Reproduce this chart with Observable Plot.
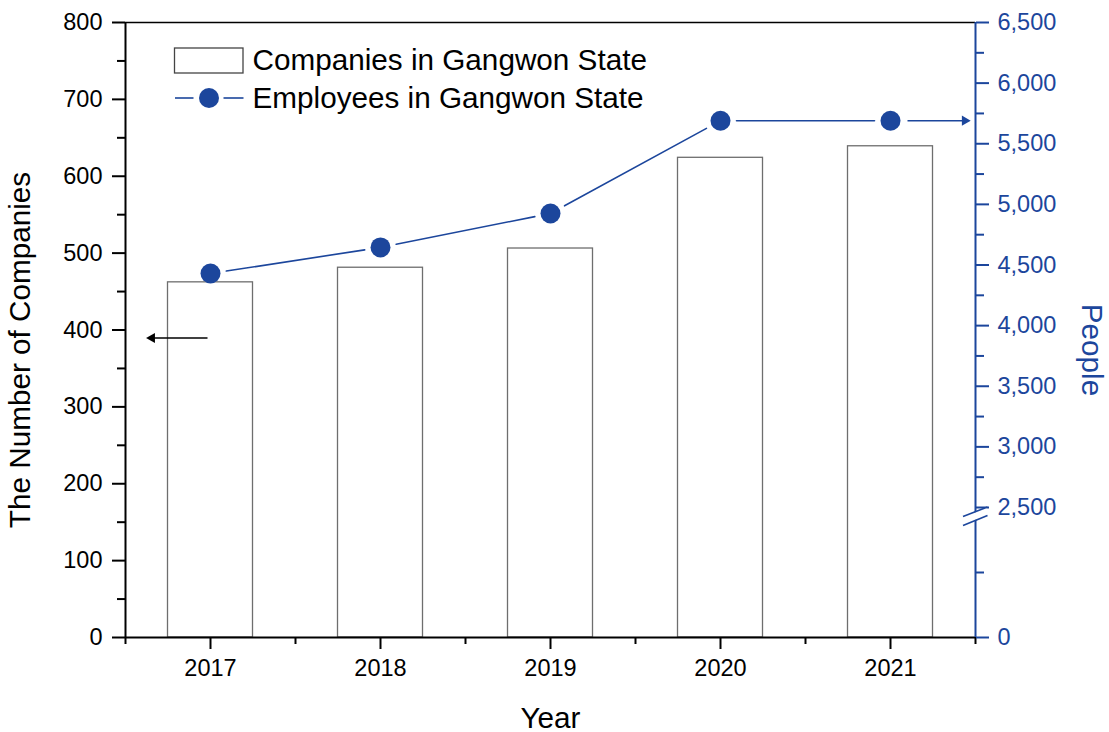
<!DOCTYPE html>
<html><head><meta charset="utf-8">
<script src="https://cdn.jsdelivr.net/npm/d3@7"></script>
<script src="https://cdn.jsdelivr.net/npm/@observablehq/plot@0.6"></script>
<style>body{margin:0;background:#fff;}</style>
</head><body><div id="chart"></div>
<script>
// ---- data ----
const years = [2017, 2018, 2019, 2020, 2021];
const companies = [462, 481, 506, 624, 639];
const employees = [4430, 4645, 4925, 5690, 5690];
const leftTicks = [0, 100, 200, 300, 400, 500, 600, 700, 800];
const leftMinor = [50, 150, 250, 350, 450, 550, 650, 750];
const rightTicks = [0, 2500, 3000, 3500, 4000, 4500, 5000, 5500, 6000, 6500];
const rightMinor = [1250, 2750, 3250, 3750, 4250, 4750, 5250, 5750, 6250];
const xMinor = [2016.5, 2017.5, 2018.5, 2019.5, 2020.5, 2021.5];
const seriesNames = ["Companies in Gangwon State", "Employees in Gangwon State"];

// ---- styling / geometry ----
const BLUE = "#1c469c";
const W = 1109, H = 732, ML = 125, MR = 134, MT = 22, MB = 95;
const X0 = 2016.5, X1 = 2021.5, Y1 = 800;
const invX = px => X0 + (px - ML) * (X1 - X0) / (W - ML - MR);
const invY = py => (H - MB - py) * Y1 / (H - MB - MT);

// broken right axis: 0..2500 compressed, 2500..6500 linear
const breakPeople = 2500, topPeople = 6500, breakLeft = invY(507), topLeft = 800;
const toLeft = v => v <= breakPeople ? v / breakPeople * breakLeft
  : breakLeft + (v - breakPeople) * (topLeft - breakLeft) / (topPeople - breakPeople);
const fromLeft = u => u <= breakLeft ? u / breakLeft * breakPeople
  : breakPeople + (u - breakLeft) * (topPeople - breakPeople) / (topLeft - breakLeft);

const table = years.map((year, i) => ({year, companies: companies[i], employees: employees[i], emp: toLeft(employees[i])}));
const segs = table.slice(1).map((d, i) => ({x1: table[i].year, y1: table[i].emp, x2: d.year, y2: d.emp}));

const last = table[table.length - 1];
const font = "'Liberation Sans', Arial, sans-serif";
const TITLE = 29.7;

const chart = Plot.plot({
  width: W, height: H, marginLeft: ML, marginRight: MR, marginTop: MT, marginBottom: MB,
  style: {fontFamily: font, fontSize: "23.5px", color: "#000", background: "#fff", overflow: "visible"},
  x: {type: "linear", domain: [X0, X1]},
  y: {domain: [0, Y1]},
  marks: [
    // bars
    Plot.rect(table, {x1: d => d.year - 0.25, x2: d => d.year + 0.25, y1: 0, y2: "companies",
      fill: "white", stroke: "#6e6e6e", strokeWidth: 1.3}),
    // employees line with gaps at dots
    Plot.arrow(segs, {x1: "x1", y1: "y1", x2: "x2", y2: "y2", stroke: BLUE, strokeWidth: 1.6,
      headLength: 0, insetStart: 16, insetEnd: 16}),
    Plot.dot(table, {x: "year", y: "emp", r: 10, fill: BLUE}),

    // frame
    Plot.ruleY([Y1], {stroke: "#000", strokeWidth: 1.6}),
    Plot.ruleY([0], {stroke: "#000", strokeWidth: 2}),
    Plot.ruleX([X0], {stroke: "#000", strokeWidth: 2}),
    Plot.ruleX([X1], {stroke: BLUE, strokeWidth: 2}),

    // bottom axis
    Plot.axisX({ticks: years, tickSize: 12, tickPadding: 10, fontSize: 23.5, strokeWidth: 2,
      tickFormat: d => String(d), fill: "#000", stroke: "#000"}),
    Plot.axisX({ticks: xMinor, tickSize: 7, strokeWidth: 2, text: null, stroke: "#000"}),

    // left axis
    Plot.axisY({ticks: leftTicks, tickSize: 13, tickPadding: 10, fontSize: 23.5, strokeWidth: 2,
      tickFormat: d => String(d), fill: "#000", stroke: "#000"}),
    Plot.axisY({ticks: leftMinor, tickSize: 8, strokeWidth: 2, text: null, stroke: "#000"}),

    // right axis (people)
    Plot.axisY({anchor: "right", ticks: rightTicks.map(toLeft), tickSize: 13, tickPadding: 9,
      fontSize: 23.5, strokeWidth: 2, stroke: BLUE, fill: BLUE,
      tickFormat: d => d3.format(",")(Math.round(fromLeft(d) / 10) * 10)}),
    Plot.axisY({anchor: "right", ticks: rightMinor.map(toLeft), tickSize: 8, strokeWidth: 2,
      text: null, stroke: BLUE}),

    // axis break on right axis
    Plot.link([{a: 0}], {x1: invX(963), y1: invY(520.5), x2: invX(987), y2: invY(510.5), stroke: "white", strokeWidth: 7}),
    Plot.link([{a: 0}, {a: 1}], {x1: invX(962.5), y1: d => invY(d.a ? 525 : 516), x2: invX(987), y2: d => invY(d.a ? 515 : 506.5),
      stroke: BLUE, strokeWidth: 1.6}),

    // indicator arrows
    Plot.link([{a: 0}], {x1: invX(207), y1: invY(337.5), x2: invX(148), y2: invY(337.5), stroke: "#000", strokeWidth: 1.5}),
    Plot.dot([{a: 0}], {x: invX(151.5), y: invY(337.5), symbol: "triangle", r: 3.8, rotate: -90, fill: "#000"}),
    Plot.link([{a: 0}], {x1: invX(907), y1: last.emp, x2: invX(966), y2: last.emp, stroke: BLUE, strokeWidth: 1.5}),
    Plot.dot([{a: 0}], {x: invX(964.3), y: last.emp, symbol: "triangle", r: 3.8, rotate: 90, fill: BLUE}),

    // legend
    Plot.rect([{a: 0}], {x1: invX(174.5), x2: invX(243), y1: invY(73), y2: invY(48), fill: "white", stroke: "#444", strokeWidth: 1.3}),
    Plot.link([{a: 0}, {a: 1}], {x1: d => invX(d.a ? 223 : 174.5), x2: d => invX(d.a ? 243 : 193), y1: invY(97.5), y2: invY(97.5), stroke: BLUE, strokeWidth: 1.6}),
    Plot.dot([{a: 0}], {x: invX(208.5), y: invY(97.5), r: 10, fill: BLUE}),
    Plot.text(seriesNames, {x: invX(252), y: (d, i) => invY(i ? 97.5 : 60), text: d => d, textAnchor: "start",
      lineAnchor: "middle", fontSize: TITLE, fill: "#000"}),

    // axis titles
    Plot.text(["The Number of Companies"], {frameAnchor: "left", dx: -105, dy: 20, rotate: -90,
      text: d => d, fontSize: TITLE, fill: "#000", textAnchor: "middle", lineAnchor: "middle"}),
    Plot.text(["People"], {frameAnchor: "right", dx: 116, dy: 20, rotate: 90,
      text: d => d, fontSize: TITLE, fill: BLUE, textAnchor: "middle", lineAnchor: "middle"}),
    Plot.text(["Year"], {frameAnchor: "bottom", dy: 81, text: d => d, fontSize: TITLE, fill: "#000",
      textAnchor: "middle", lineAnchor: "middle"})
  ]
});
document.getElementById("chart").appendChild(chart);
</script>
</body></html>
